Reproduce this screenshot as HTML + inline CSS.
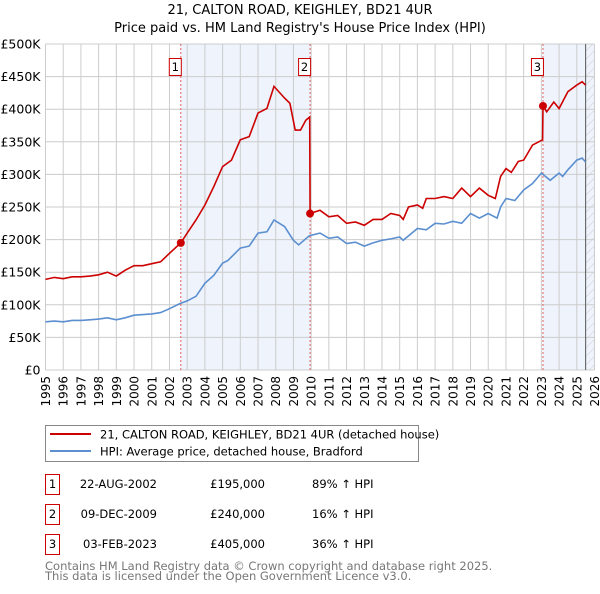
<!DOCTYPE html>
<html><head><meta charset="utf-8"><style>
body{margin:0;background:#fff;font-family:"DejaVu Sans","Liberation Sans",sans-serif;}
svg text{font-family:"DejaVu Sans","Liberation Sans",sans-serif;}
</style></head><body>
<svg id="c" width="600" height="590" xmlns="http://www.w3.org/2000/svg">
<defs><pattern id="hatch" width="6" height="6" patternUnits="userSpaceOnUse" patternTransform="rotate(45)"><line x1="0" y1="0" x2="0" y2="6" stroke="#ccc" stroke-width="1"/></pattern></defs>
<text x="300" y="14" text-anchor="middle" font-size="13">21, CALTON ROAD, KEIGHLEY, BD21 4UR</text>
<text x="300" y="32" text-anchor="middle" font-size="13">Price paid vs. HM Land Registry's House Price Index (HPI)</text>
<g id="plot"></g>
<g>
<rect x="45.5" y="425.5" width="373" height="36" fill="#fff" stroke="#888"/>
<line x1="50" y1="434" x2="91" y2="434" stroke="#cc0000" stroke-width="2"/>
<text x="100" y="438.5" font-size="11.5">21, CALTON ROAD, KEIGHLEY, BD21 4UR (detached house)</text>
<line x1="50" y1="451" x2="91" y2="451" stroke="#5b8fd0" stroke-width="2"/>
<text x="100" y="455.5" font-size="11.5">HPI: Average price, detached house, Bradford</text>
</g>
<g id="table" font-size="11.5"></g>
<text x="45" y="570" font-size="11.5" fill="#777">Contains HM Land Registry data © Crown copyright and database right 2025.</text>
<text x="45" y="580" font-size="11.5" fill="#777">This data is licensed under the Open Government Licence v3.0.</text>
</svg>
<script>
const hpiYears=[1995,1995.5,1996,1996.5,1997,1997.5,1998,1998.5,1999,1999.5,2000,2000.5,2001,2001.5,2002,2002.6,2003,2003.5,2004,2004.5,2005,2005.3,2006,2006.5,2007,2007.5,2007.9,2008.5,2009,2009.3,2009.9,2010.5,2011,2011.5,2012,2012.5,2013,2013.5,2014,2014.5,2015,2015.2,2016,2016.5,2017,2017.5,2018,2018.5,2019,2019.5,2020,2020.5,2020.7,2021,2021.5,2022,2022.5,2023,2023.5,2024,2024.2,2024.5,2025,2025.3,2025.5];
const hpiValues=[74,75,74,76,76,77,78,80,77,80,84,85,86,88,94,102,106,113,133,145,164,168,187,190,210,212,230,220,199,192,206,210,202,204,194,196,190,195,199,201,204,199,217,215,225,224,228,225,240,233,240,233,250,263,260,276,286,302,291,302,297,307,322,325,319];
const redYears=[1995,1995.5,1996,1996.5,1997,1997.5,1998,1998.5,1999,1999.5,2000,2000.5,2001,2001.5,2002,2002.64,2003,2003.5,2004,2004.5,2005,2005.5,2006,2006.5,2007,2007.5,2007.9,2008.5,2008.8,2009.1,2009.4,2009.7,2009.92,2009.94,2010.5,2011,2011.5,2012,2012.5,2013,2013.5,2014,2014.5,2015,2015.2,2015.5,2016,2016.3,2016.5,2017,2017.5,2018,2018.5,2019,2019.5,2020,2020.4,2020.7,2021,2021.3,2021.7,2022,2022.5,2023.07,2023.09,2023.3,2023.7,2024,2024.5,2025,2025.3,2025.5];
const redValues=[139,142,140,143,143,144,146,150,144,153,160,160,163,166,179,195,210,230,253,281,312,322,353,358,394,401,435,417,409,368,368,383,388,240,245,235,237,225,227,222,231,231,240,237,231,250,253,248,263,263,266,263,279,266,279,268,263,297,309,303,320,322,345,353,405,396,411,401,427,437,442,437];
const saleLabels=["1","2","3"];
const saleYears=[2002.64,2009.94,2023.09];
const saleValues=[195,240,405];
const saleDates=["22-AUG-2002","09-DEC-2009","03-FEB-2023"];
const salePrices=["£195,000","£240,000","£405,000"];
const saleHpi=["89% ↑ HPI","16% ↑ HPI","36% ↑ HPI"];
const yTicks=[0,50,100,150,200,250,300,350,400,450,500];
const yTickLabels=["£0","£50K","£100K","£150K","£200K","£250K","£300K","£350K","£400K","£450K","£500K"];
const xTicks=[1995,1996,1997,1998,1999,2000,2001,2002,2003,2004,2005,2006,2007,2008,2009,2010,2011,2012,2013,2014,2015,2016,2017,2018,2019,2020,2021,2022,2023,2024,2025,2026];

const NS="http://www.w3.org/2000/svg";
const X0=45.5,X1=594.5,Y0=370,Y1=44;
const xs=y=>X0+(y-1995)/(2026-1995)*(X1-X0);
const ys=v=>Y0-v/500*(Y0-Y1);
const plot=document.getElementById('plot');
function mk(tag,attrs,parent){const e=document.createElementNS(NS,tag);for(const k in attrs)e.setAttribute(k,attrs[k]);(parent||plot).appendChild(e);return e;}

let r=mk('rect',{x:xs(saleYears[0]),y:Y1,width:xs(saleYears[1])-xs(saleYears[0]),height:Y0-Y1,fill:'#eef3fc'});


r=mk('rect',{x:xs(saleYears[2]),y:Y1,width:X1-xs(saleYears[2]),height:Y0-Y1,fill:'#eef3fc'});


r=mk('rect',{x:xs(2025.5),y:Y1,width:X1-xs(2025.5),height:Y0-Y1,fill:'url(#hatch)'});



xTicks.forEach(t=>{
 const l=mk('line',{x1:xs(t),x2:xs(t),y1:Y1,y2:Y0,stroke:'#ccc'});
 
 
 const tx=mk('text',{x:0,y:0,'font-size':12,'text-anchor':'end',transform:`translate(${xs(t)+4.5},${Y0+6}) rotate(-90)`});
 tx.textContent=t;
 
 
});
yTicks.forEach((t,i)=>{
 const l=mk('line',{x1:X0,x2:X1,y1:ys(t),y2:ys(t),stroke:'#ccc'});
 
 
 const tx=mk('text',{x:X0-5,y:ys(t)+4.5,'font-size':12.5,'text-anchor':'end'});
 tx.textContent=yTickLabels[i];
 
 
});
let vl=mk('line',{x1:xs(2025.5),x2:xs(2025.5),y1:Y1,y2:Y0,stroke:'#555'});



saleYears.forEach((y,i)=>{
 const l=mk('line',{x1:xs(y),x2:xs(y),y1:Y1,y2:Y0,stroke:'#e06060','stroke-dasharray':'2,2'});
 
 
});

const hp=mk('path',{d:hpiYears.map((y,i)=>(i?'L':'M')+xs(y).toFixed(1)+','+ys(hpiValues[i]).toFixed(1)).join(''),fill:'none',stroke:'#5b8fd0','stroke-width':1.6});


const rp=mk('path',{d:redYears.map((y,i)=>(i?'L':'M')+xs(y).toFixed(1)+','+ys(redValues[i]).toFixed(1)).join(''),fill:'none',stroke:'#cc0000','stroke-width':1.6});



saleYears.forEach((y,i)=>{
 const c=mk('circle',{cx:xs(y),cy:ys(saleValues[i]),r:4,fill:'#cc0000'});
 
 
 const bx=xs(y)-11.5;
 const b=mk('rect',{x:bx,y:58.5,width:12,height:17,fill:'#fff',stroke:'#cc0000'});
 
 
 const t=mk('text',{x:bx+6,y:71,'font-size':11.5,'text-anchor':'middle'});
 t.textContent=saleLabels[i];
 
 
});

const tb=document.getElementById('table');
saleLabels.forEach((s,i)=>{
 const y=483+i*30;
 const b=mk('rect',{x:45.5,y:y-8.5,width:14,height:20,fill:'#fff',stroke:'#cc0000'},tb);
 
 
 const cells=[[52.5,s,'middle'],[157,saleDates[i],'end'],[265,salePrices[i],'end'],[312,saleHpi[i],'start']];
 cells.forEach(([x,txt,a])=>{
  const t=mk('text',{x:a==='end'?x:x,y:y+5,'text-anchor':a==='end'?'end':a},tb);
  t.textContent=txt;
  
  
 });
});
</script>
</body></html>
